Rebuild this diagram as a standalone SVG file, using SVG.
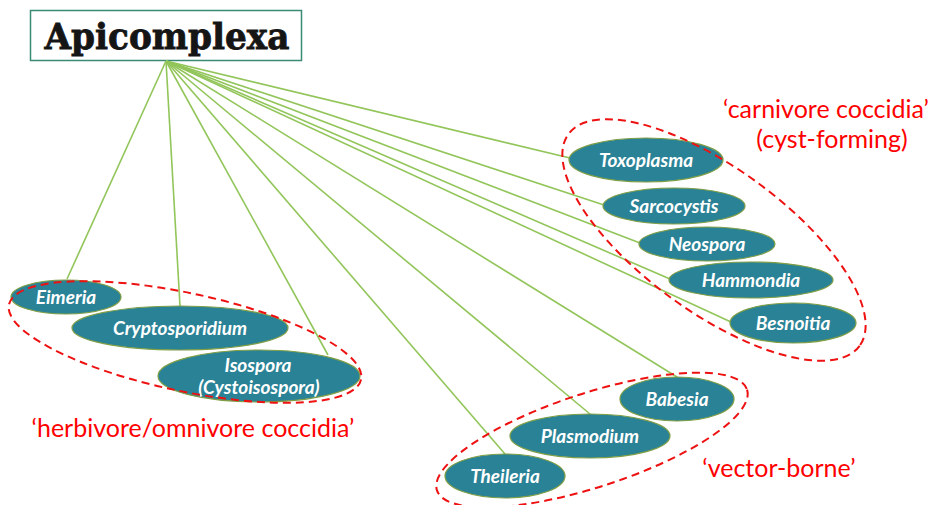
<svg xmlns="http://www.w3.org/2000/svg" width="935" height="505" viewBox="0 0 935 505">
<style>
.node ellipse{fill:#2a8296;stroke:#7f9e45;stroke-width:1.2}
.node text{fill:#fff;font-family:Lato,"Open Sans",sans-serif;font-weight:bold;font-style:italic;font-size:19px;text-anchor:middle}
.conn line{stroke:#92c55a;stroke-width:1.6}
.grp{fill:none;stroke:#ee1111;stroke-width:2;stroke-dasharray:8 5}
.lbl{fill:#ff0000;font-family:Lato,"Open Sans",sans-serif;font-size:25px;text-anchor:middle}
</style>
<rect width="935" height="505" fill="#fff"/>
<g id="title">
<rect x="30.5" y="10.5" width="271" height="50" fill="#fff" stroke="#3a8a74" stroke-width="1.5"/>
<text x="167" y="49" font-family="DejaVu Serif,serif" font-weight="bold" font-size="35" text-anchor="middle" textLength="245" lengthAdjust="spacingAndGlyphs" fill="#151515" stroke="#151515" stroke-width="0.8">Apicomplexa</text>
</g>
<g id="connectors" class="conn">
<line x1="166" y1="61" x2="67" y2="279"/>
<line x1="166" y1="61" x2="180" y2="306"/>
<line x1="166" y1="61" x2="328" y2="355"/>
<line x1="166" y1="61" x2="570" y2="158"/>
<line x1="166" y1="61" x2="604" y2="205"/>
<line x1="166" y1="61" x2="640" y2="243"/>
<line x1="166" y1="61" x2="670" y2="279"/>
<line x1="166" y1="61" x2="731" y2="322"/>
<line x1="166" y1="61" x2="677" y2="377"/>
<line x1="166" y1="61" x2="590" y2="414"/>
<line x1="166" y1="61" x2="505" y2="454"/>
</g>
<g id="n-eimeria" class="node"><ellipse cx="66" cy="297" rx="55" ry="17"/><text x="66" y="304">Eimeria</text></g>
<g id="n-crypto" class="node"><ellipse cx="180" cy="328" rx="108" ry="22"/><text x="180" y="335">Cryptosporidium</text></g>
<g id="n-isospora" class="node"><ellipse cx="259" cy="376" rx="101" ry="26"/><text x="258" y="372">Isospora</text><text x="259" y="394">(Cystoisospora)</text></g>
<g id="n-toxo" class="node"><ellipse cx="646" cy="160" rx="77" ry="22"/><text x="646" y="167">Toxoplasma</text></g>
<g id="n-sarco" class="node"><ellipse cx="674" cy="206" rx="71" ry="18"/><text x="674" y="213">Sarcocystis</text></g>
<g id="n-neo" class="node"><ellipse cx="707" cy="244" rx="68" ry="17"/><text x="707" y="251">Neospora</text></g>
<g id="n-hammondia" class="node"><ellipse cx="751" cy="280" rx="82" ry="18"/><text x="751" y="287">Hammondia</text></g>
<g id="n-besnoitia" class="node"><ellipse cx="793" cy="323" rx="63" ry="20"/><text x="793" y="330">Besnoitia</text></g>
<g id="n-babesia" class="node"><ellipse cx="677" cy="399" rx="57" ry="22"/><text x="677" y="406">Babesia</text></g>
<g id="n-plasmodium" class="node"><ellipse cx="590" cy="436" rx="80" ry="22"/><text x="590" y="443">Plasmodium</text></g>
<g id="n-theileria" class="node"><ellipse cx="505" cy="476" rx="60" ry="22"/><text x="505" y="483">Theileria</text></g>
<g id="groups">
<ellipse class="grp" cx="185" cy="342" rx="180" ry="49" transform="rotate(12 185 342)"/>
<ellipse class="grp" cx="714" cy="240" rx="180" ry="72" transform="rotate(36 714 240)"/>
<ellipse class="grp" cx="592" cy="440" rx="163" ry="47" transform="rotate(-18 592 440)"/>
</g>
<g id="labels">
<text class="lbl" x="826" y="118">‘carnivore coccidia’</text>
<text class="lbl" x="832" y="148">(cyst-forming)</text>
<text class="lbl" x="193" y="437">‘herbivore/omnivore coccidia’</text>
<text class="lbl" x="779" y="477">‘vector-borne’</text>
</g>
</svg>
